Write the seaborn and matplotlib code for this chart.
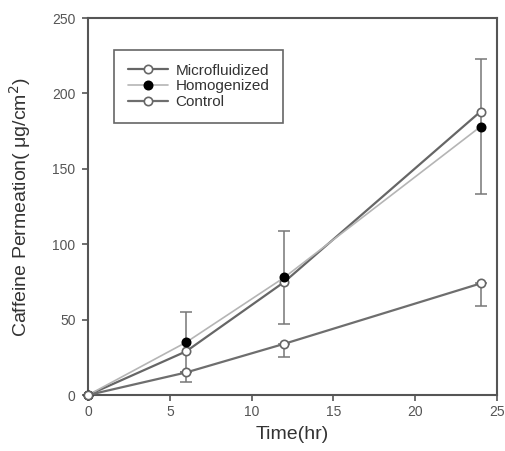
import numpy as np
import pandas as pd
import seaborn as sns
import matplotlib
matplotlib.use("Agg")
import matplotlib.pyplot as plt

# values
time_hr = [0, 6, 12, 24]
microfluidized = [0, 29, 75, 188]
homogenized = [0, 35, 78, 178]
homogenized_err = [0, 20, 31, 45]
control = [0, 15, 34, 74]
control_err_low = [0, 6, 9, 15]

series_names = ["Microfluidized", "Homogenized", "Control"]

data = pd.DataFrame({
    "time": time_hr * 3,
    "value": microfluidized + homogenized + control,
    "group": [n for n in series_names for _ in time_hr],
})

sns.set_style("ticks")
plt.rcParams["font.family"] = ["Liberation Sans", "DejaVu Sans"]
plt.rcParams["text.color"] = "#333333"
plt.rcParams["axes.labelcolor"] = "#333333"
plt.rcParams["xtick.color"] = "#555555"
plt.rcParams["ytick.color"] = "#555555"

fig = plt.figure(figsize=(5.06, 4.51), dpi=100)
ax = fig.add_axes([0.174, 0.124, 0.808, 0.836])

styles = {
    "Microfluidized": dict(color="#666666", mfc="white", mec="#666666", lw=1.6),
    "Homogenized": dict(color="#b5b5b5", mfc="black", mec="black", lw=1.2),
    "Control": dict(color="#6e6e6e", mfc="white", mec="#666666", lw=1.6),
}

# error bars first so markers sit on top
ax.errorbar(time_hr, homogenized, yerr=homogenized_err, fmt="none",
            ecolor="#777777", elinewidth=1.1, capsize=4, capthick=1.1, zorder=2)
ax.errorbar(time_hr, control, yerr=[control_err_low, [0] * len(control)], fmt="none",
            ecolor="#777777", elinewidth=1.1, capsize=4, capthick=1.1, zorder=2)

for name in series_names:
    st = styles[name]
    sns.lineplot(
        data=data[data["group"] == name],
        x="time", y="value",
        ax=ax,
        color=st["color"],
        linewidth=st["lw"],
        marker="o",
        markersize=6,
        markerfacecolor=st["mfc"],
        markeredgecolor=st["mec"],
        markeredgewidth=1.2,
        label=name,
        zorder=3,
        clip_on=False,
    )

ax.set_xlim(0, 25)
ax.set_ylim(0, 250)
ax.set_xticks([0, 5, 10, 15, 20, 25])
ax.set_yticks([0, 50, 100, 150, 200, 250])
ax.tick_params(axis="both", labelsize=10, length=4, width=1.2)
ax.tick_params(axis="y", pad=5)
for sp in ax.spines.values():
    sp.set_color("#555555")
    sp.set_linewidth(1.5)

ax.set_xlabel("Time(hr)", fontsize=14, labelpad=5)
ax.set_ylabel("Caffeine Permeation( μg/cm$^2$)", fontsize=14, labelpad=14)

leg = ax.legend(
    loc="upper left",
    bbox_to_anchor=(0.064, 0.915),
    borderaxespad=0,
    fontsize=11,
    handlelength=2.6,
    handletextpad=0.5,
    labelspacing=0.1,
    fancybox=False,
    framealpha=1,
    edgecolor="#666666",
    borderpad=0.9,
)
leg.get_frame().set_linewidth(1.2)

fig.savefig("out.png", dpi=100)
